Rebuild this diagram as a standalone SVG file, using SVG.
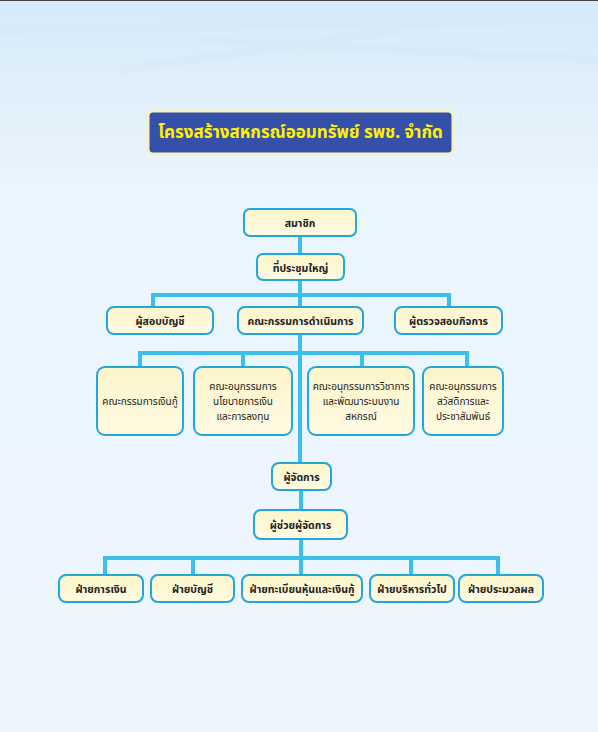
<svg xmlns="http://www.w3.org/2000/svg" width="598" height="732" viewBox="0 0 598 732">
<defs>
<linearGradient id="bg" x1="0" y1="0" x2="0" y2="1">
<stop offset="0" stop-color="#d6eaf9"/>
<stop offset="0.25" stop-color="#eaf5fd"/>
<stop offset="1" stop-color="#eef6fd"/>
</linearGradient>
<linearGradient id="box" x1="0" y1="0" x2="0" y2="1">
<stop offset="0" stop-color="#fcf5c9"/>
<stop offset="1" stop-color="#fffbe4"/>
</linearGradient>
<style>
.n rect{fill:url(#box);stroke:#22a6dd;stroke-width:2}
.n text{font-family:"Noto Sans Thai","Noto Sans",Tahoma,sans-serif;font-size:10.5px;font-weight:bold;fill:#222;text-anchor:middle}
.s text{font-weight:normal;font-size:10px}
#connectors path{fill:none;stroke:#3cbfeb;stroke-width:4}
</style>
</defs>
<rect width="598" height="732" fill="url(#bg)"/>
<path d="M0 30 L598 20 M120 70 L400 30 M200 40 L598 60" stroke="#d0e6f7" stroke-width="8" opacity="0.3" fill="none"/>
<rect width="598" height="1" fill="#444"/>
<g id="title">
<rect x="148" y="111" width="305" height="43" rx="5" fill="#3550a8" stroke="#f5f1c4" stroke-width="3"/>
<text x="300.5" y="138" font-family="'Noto Sans Thai','Noto Sans',Tahoma,sans-serif" font-size="17" font-weight="bold" fill="#fff200" text-anchor="middle">โครงสร้างสหกรณ์ออมทรัพย์ รพช. จำกัด</text>
</g>
<g id="connectors">
<path d="M300 236 V254 M300 280 V307 M153 307 V295 H449 V307"/>
<path d="M300 334 V463 M140 367 V353 H467 V367 M243 353 V367 M362 353 V367"/>
<path d="M301 490 V510 M301 539 V558 M105 575 V558 H498 V575 M193 558 V575 M411 558 V575 M301 558 V575"/>
</g>
<g id="n-member" class="n"><rect x="244" y="209" width="112" height="27" rx="6"/><text x="300" y="226.5">สมาชิก</text></g>
<g id="n-general" class="n"><rect x="257" y="254" width="87" height="26" rx="6"/><text x="300.5" y="271.5">ที่ประชุมใหญ่</text></g>
<g id="n-auditor" class="n"><rect x="107" y="307" width="106" height="27" rx="7"/><text x="160" y="324.5">ผู้สอบบัญชี</text></g>
<g id="n-board" class="n"><rect x="238" y="307" width="125" height="27" rx="7"/><text x="300.5" y="324.5">คณะกรรมการดำเนินการ</text></g>
<g id="n-inspector" class="n"><rect x="395" y="307" width="107" height="27" rx="7"/><text x="448.5" y="324.5">ผู้ตรวจสอบกิจการ</text></g>
<g id="n-loan" class="n s"><rect x="97" y="367" width="86" height="68" rx="8"/><text x="140" y="405">คณะกรรมการเงินกู้</text></g>
<g id="n-policy" class="n s"><rect x="194" y="367" width="98" height="68" rx="8"/><text x="243" y="390">คณะอนุกรรมการ</text><text x="243" y="405">นโยบายการเงิน</text><text x="243" y="420">และการลงทุน</text></g>
<g id="n-academic" class="n s"><rect x="308" y="367" width="106" height="68" rx="8"/><text x="361" y="390">คณะอนุกรรมการวิชาการ</text><text x="361" y="405">และพัฒนาระบบงาน</text><text x="361" y="420">สหกรณ์</text></g>
<g id="n-welfare" class="n s"><rect x="423" y="367" width="80" height="68" rx="8"/><text x="463" y="390">คณะอนุกรรมการ</text><text x="463" y="405">สวัสดิการและ</text><text x="463" y="420">ประชาสัมพันธ์</text></g>
<g id="n-manager" class="n"><rect x="272" y="463" width="59" height="27" rx="7"/><text x="301.5" y="480.5">ผู้จัดการ</text></g>
<g id="n-assistant" class="n"><rect x="254" y="510" width="93" height="29" rx="7"/><text x="300.5" y="528.5">ผู้ช่วยผู้จัดการ</text></g>
<g id="n-finance" class="n"><rect x="59" y="575" width="84" height="27" rx="7"/><text x="101" y="592.5">ฝ่ายการเงิน</text></g>
<g id="n-accounting" class="n"><rect x="151" y="575" width="83" height="27" rx="7"/><text x="192.5" y="592.5">ฝ่ายบัญชี</text></g>
<g id="n-registry" class="n"><rect x="242" y="575" width="120" height="27" rx="7"/><text x="302" y="592.5">ฝ่ายทะเบียนหุ้นและเงินกู้</text></g>
<g id="n-admin" class="n"><rect x="370" y="575" width="84" height="27" rx="7"/><text x="412" y="592.5">ฝ่ายบริหารทั่วไป</text></g>
<g id="n-processing" class="n"><rect x="459" y="575" width="84" height="27" rx="7"/><text x="501" y="592.5">ฝ่ายประมวลผล</text></g>
</svg>
